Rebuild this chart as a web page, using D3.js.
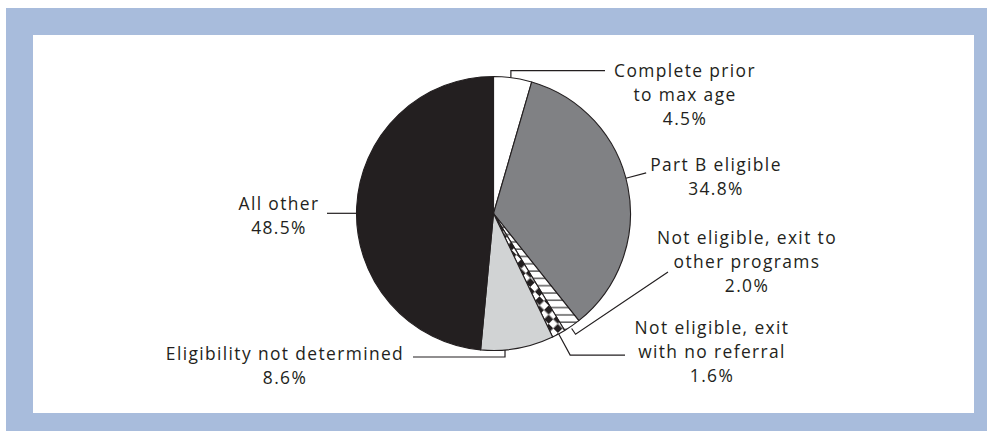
<!DOCTYPE html>
<html><head><meta charset="utf-8">
<script src="https://cdn.jsdelivr.net/npm/d3@7"></script>
<style>html,body{margin:0;padding:0;background:#fff}svg{display:block}</style>
</head><body>
<svg id="c" width="987" height="431"></svg>
<script>
// ---- data ----
const categories = ["Complete prior to max age","Part B eligible","Not eligible, exit to other programs","Not eligible, exit with no referral","Eligibility not determined","All other"];
const values = [4.5, 34.8, 2.0, 1.6, 8.6, 48.5];
const labelLines = [
  ["Complete prior","to max age","4.5%"],
  ["Part B eligible","34.8%"],
  ["Not eligible, exit to","other programs","2.0%"],
  ["Not eligible, exit","with no referral","1.6%"],
  ["Eligibility not determined","8.6%"],
  ["All other","48.5%"]
];

// ---- layout / style ----
const W = 987, H = 431;
const cx = 493.5, cy = 213.5, R = 137;
const ink = "#231f20";
const fills = ["#ffffff", "#808184", "url(#hatch)", "url(#checker)", "#d1d3d4", ink];
const labelPos = [[685,77],[716,171],[747,244],[712,334],[285,360],[279,210]];
const lineH = 24;
const fs = 17.4;

const svg = d3.select("#c");
svg.append("rect").attr("x",6).attr("y",8).attr("width",W-6).attr("height",H-8).attr("fill","#a8bcdc");
svg.append("rect").attr("x",33).attr("y",35).attr("width",941).attr("height",378).attr("fill","#fff");

const defs = svg.append("defs");
const hp = defs.append("pattern").attr("id","hatch").attr("patternUnits","userSpaceOnUse")
  .attr("width",8).attr("height",7.3);
hp.append("rect").attr("width",8).attr("height",7.3).attr("fill","#fff");
hp.append("line").attr("x1",0).attr("x2",8).attr("y1",6.5).attr("y2",6.5).attr("stroke","#444").attr("stroke-width",1.3);
const cs = 6.5;
const cp = defs.append("pattern").attr("id","checker").attr("patternUnits","userSpaceOnUse")
  .attr("width",cs*2).attr("height",cs*2).attr("patternTransform","rotate(45)");
cp.append("rect").attr("width",cs*2).attr("height",cs*2).attr("fill","#fff");
cp.append("rect").attr("width",cs).attr("height",cs).attr("fill",ink);
cp.append("rect").attr("x",cs).attr("y",cs).attr("width",cs).attr("height",cs).attr("fill",ink);

const pie = d3.pie().sort(null).value(d => d)(values);
const arc = d3.arc().innerRadius(0).outerRadius(R);
const g = svg.append("g").attr("transform",`translate(${cx},${cy})`);
g.selectAll("path.s").data(pie).join("path").attr("class","s")
  .attr("d",arc).attr("fill",(d,i)=>fills[i]).attr("stroke",ink).attr("stroke-width",1.1).attr("stroke-linejoin","round");

// leader lines computed from slice angles
const pt = (a, r) => [cx + r*Math.sin(a), cy - r*Math.cos(a)];
const at = (d, f) => d.startAngle + f*(d.endAngle - d.startAngle);
const leaders = [];
{ const a = at(pie[0],0.45), p = pt(a,R); leaders.push([p,[p[0],70.7],[605,70.7]]); }
{ const a = at(pie[1],0.47); leaders.push([pt(a,R),pt(a,158)]); }
{ const a = at(pie[2],0.6); const e = pt(a,146); leaders.push([pt(a,139),e,[668,272]]); }
{ const a = at(pie[3],0.5); const e = pt(a,161); leaders.push([pt(a,R),e,[625,e[1]]]); }
{ const a = at(pie[4],0.67), p = pt(a,R); leaders.push([p,[p[0],357],[413,357]]); }
{ const a = at(pie[5],0.485), p = pt(a,R); leaders.push([p,[327,p[1]]]); }
svg.append("g").selectAll("path").data(leaders).join("path")
  .attr("d", d3.line()).attr("fill","none").attr("stroke",ink).attr("stroke-width",1.2);

const tg = svg.append("g").attr("font-family","'Open Sans', sans-serif").attr("font-size",fs).attr("fill",ink).attr("text-anchor","middle");
// widen tracking so the widest reference label matches its measured width
const probeText = "Eligibility not determined";
const probe = tg.append("text").text(probeText);
const ls = Math.max(0, (237 - probe.node().getComputedTextLength()) / (probeText.length - 1));
probe.remove();
tg.attr("letter-spacing", ls.toFixed(2));
labelLines.forEach((lines,i)=>{
  lines.forEach((s,j)=>tg.append("text").attr("x",labelPos[i][0]).attr("y",labelPos[i][1]+j*lineH).text(s));
});
</script>
</body></html>
